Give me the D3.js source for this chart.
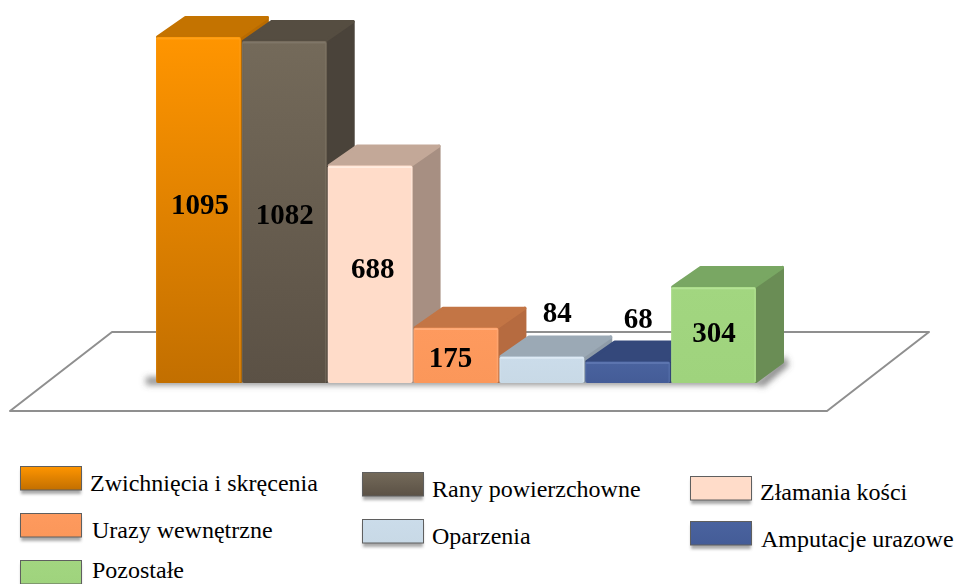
<!DOCTYPE html>
<html><head><meta charset="utf-8">
<script src="https://cdn.jsdelivr.net/npm/d3@7"></script>
<style>html,body{margin:0;background:#fff}svg{display:block}text{font-family:"Liberation Serif",serif;fill:#000}</style>
</head><body><svg id="c" width="954" height="584"></svg>
<script>
const categories = ["Zwichnięcia i skręcenia","Rany powierzchowne","Złamania kości","Urazy wewnętrzne","Oparzenia","Amputacje urazowe","Pozostałe"];
const values = [1095,1082,688,175,84,68,304];
const frontTop = ["#ff9500","#746a5a","#ffdcc9","#fe9a5e","#cbdcea","#4a639f","#a2d680"];
const frontBottom = ["#c26f00","#5b5145","#ffdcc9","#fb975a","#c8d9e6","#445c97","#9fd37d"];
const topFace = ["#c47300","#554d41","#c3a898","#c37545","#9ba9b5","#34487b","#79a763"];
const sideFace = ["#b96b00","#4a433a","#a78f82","#b66b40","#8f9ca8","#2f4170","#6a8d55"];
const edge = ["#ffa21e","#82796a","#fff0e6","#ffb183","#e2eef7","#6079b3","#b9e69c"];
const labelNudgeX = [1,0,2,-6,15,10,0];
const labelNudgeY = [-6,2,-6,2,-58,-54,-3];
const legendCol = [0,1,2,0,1,2,0];
const legendRow = [0,0,0,1,1,1,2];

const svg = d3.select("#c");
const defs = svg.append("defs");
const blur = defs.append("filter").attr("id","blur").attr("x","-30%").attr("y","-30%").attr("width","160%").attr("height","160%");
blur.append("feGaussianBlur").attr("stdDeviation",3);
const softEdge = defs.append("filter").attr("id","soft").attr("x","-5%").attr("y","-5%").attr("width","110%").attr("height","110%");
softEdge.append("feGaussianBlur").attr("stdDeviation",0.45);
const legendBlur = defs.append("filter").attr("id","lblur").attr("x","-10%").attr("y","-30%").attr("width","120%").attr("height","160%");
legendBlur.append("feGaussianBlur").attr("stdDeviation",1.6);
categories.forEach((c,i)=>{
  const g = defs.append("linearGradient").attr("id","g"+i).attr("x1",0).attr("y1",0).attr("x2",0).attr("y2",1);
  g.append("stop").attr("offset","0%").attr("stop-color",frontTop[i]);
  g.append("stop").attr("offset","100%").attr("stop-color",frontBottom[i]);
});

const baseY = 383, topY = 37;
const x = d3.scaleBand().domain(categories).range([156,757]);
const y = d3.scaleLinear().domain([0,1095]).range([baseY,topY]);
const dx = 28, dy = -21;
const line = d3.line();

// floor
svg.append("path").attr("d",line([[112,332],[929,332],[827,411],[10,411]])+"Z")
  .attr("fill","#fff").attr("stroke","#8f8f8f").attr("stroke-width",2).attr("stroke-linejoin","round");

// cast shadow on the floor
const sh = svg.append("g").attr("filter","url(#blur)").attr("fill","#555");
sh.append("path").attr("d",line([[x.range()[1]-2,y(0)+1],[x.range()[1]+dx,y(0)+dy-6],[x.range()[1]+dx+4,y(0)+dy+3],[x.range()[1]+6,y(0)+4]])+"Z").attr("opacity",.7);
sh.append("rect").attr("x",x.range()[0]-10).attr("y",y(0)-6).attr("width",x.range()[1]-x.range()[0]+10).attr("height",8).attr("opacity",.65);

const bars = svg.append("g").selectAll("g").data(categories).join("g");
bars.each(function(c,i){
  const g = d3.select(this), x0 = x(c), w = x.bandwidth()-1, y0 = y(values[i]);
  const r = 1.5; // inset so the thick round stroke gives soft box corners
  g.append("path").attr("d",line([[x0+w,y0+r],[x0+w+dx-r,y0+dy+r],[x0+w+dx-r,baseY+dy],[x0+w,baseY-r]])+"Z")
    .attr("fill",sideFace[i]).attr("stroke",sideFace[i]).attr("stroke-width",2*r).attr("stroke-linejoin","round");
  g.append("path").attr("d",line([[x0+r,y0],[x0+dx+r,y0+dy+r],[x0+w+dx-r,y0+dy+r],[x0+w-r,y0]])+"Z")
    .attr("fill",topFace[i]).attr("stroke",topFace[i]).attr("stroke-width",2*r).attr("stroke-linejoin","round");
  g.append("rect").attr("x",x0).attr("y",y0).attr("width",w).attr("height",baseY-y0).attr("rx",2)
    .attr("fill",`url(#g${i})`);
  const e = g.append("g").attr("filter","url(#soft)").attr("fill","none").attr("stroke",edge[i]);
  e.append("path").attr("d",line([[x0+1,y0+1.5],[x0+w-1,y0+1.5]])).attr("stroke-width",1.8).attr("opacity",.8);
  e.append("path").attr("d",line([[x0+w-1,y0+1.5],[x0+w-1,baseY-1]])).attr("stroke-width",1.4).attr("opacity",.45);
  e.append("path").attr("d",line([[x0+.7,y0+1.5],[x0+.7,baseY-1]])).attr("stroke-width",1).attr("opacity",.3);
});

svg.append("g").selectAll("text").data(categories).join("text")
  .attr("x",(c,i)=>x(c)+x.bandwidth()/2+labelNudgeX[i])
  .attr("y",(c,i)=>(y(values[i])+baseY)/2+labelNudgeY[i]+10)
  .attr("text-anchor","middle").attr("font-size",29).attr("font-weight","bold")
  .text((c,i)=>values[i]);

// legend
const colX = d3.scaleOrdinal().domain([0,1,2]).range([20,362,690]);
const rowY = [[466,513,560],[472,519],[476,521]];
const textDx = [[70,72,72],[70,70],[70,71]];
const textDy = [[25,25,18],[25,25],[24,26]];
const lg = svg.append("g").selectAll("g").data(categories).join("g");
lg.each(function(c,i){
  const g = d3.select(this), col = legendCol[i], row = legendRow[i], cx = colX(col), ry = rowY[col][row];
  g.append("rect").attr("x",cx+1).attr("y",ry+4).attr("width",60).attr("height",24).attr("fill","#555").attr("opacity",.5).attr("filter","url(#lblur)");
  g.append("rect").attr("x",cx+.5).attr("y",ry+.5).attr("width",61).attr("height",23.5)
    .attr("fill",`url(#g${i})`).attr("stroke","#5f5f5f").attr("stroke-width",1);
  g.append("text").attr("x",cx+textDx[col][row]).attr("y",ry+textDy[col][row]).attr("font-size",24).text(c);
});
</script></body></html>
